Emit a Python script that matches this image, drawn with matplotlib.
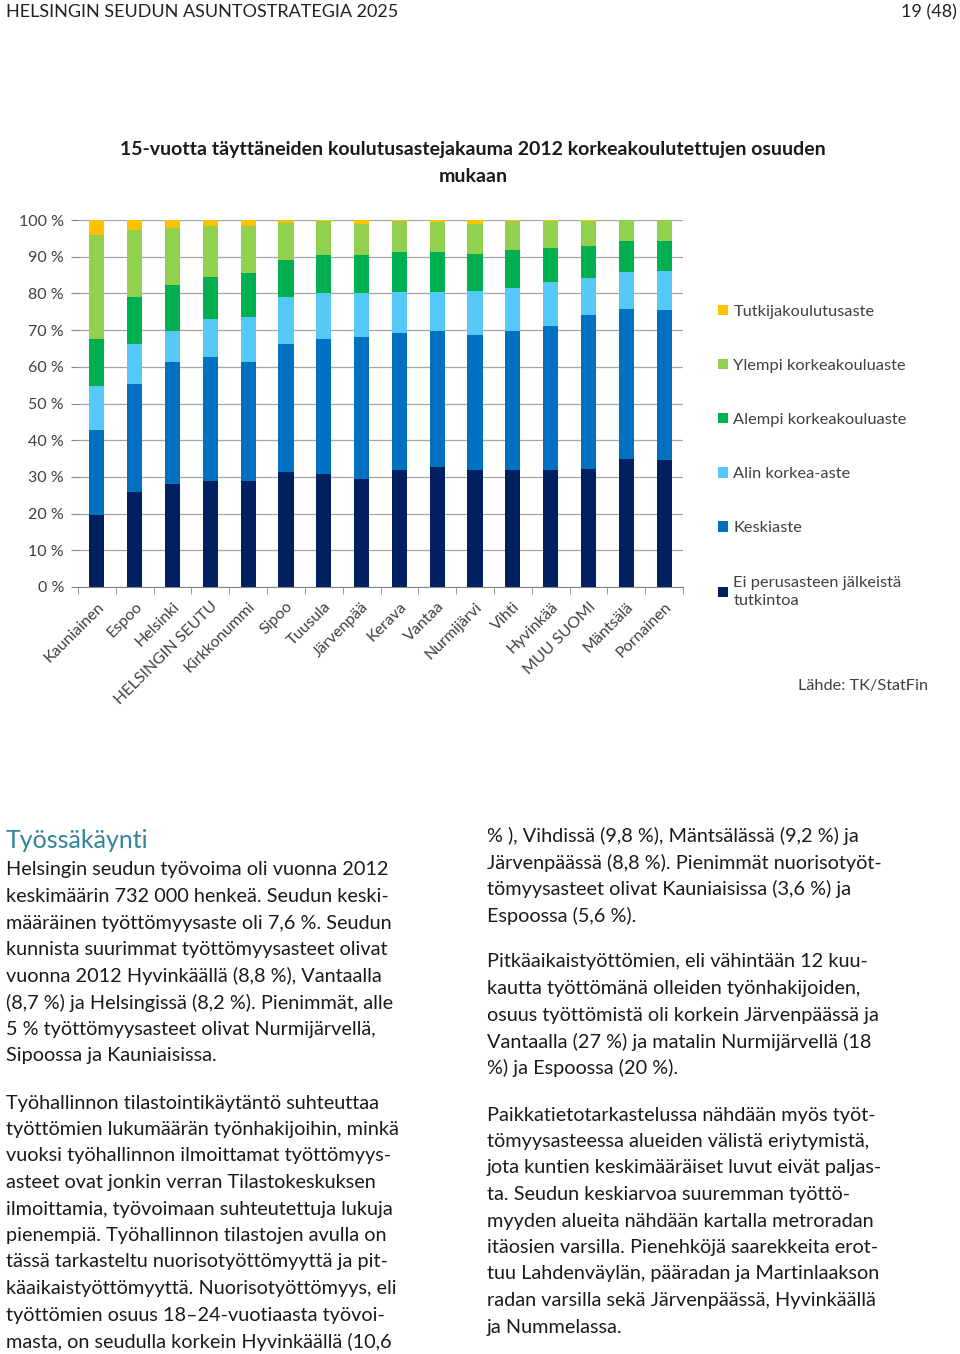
import numpy as np
import matplotlib.pyplot as plt

plt.rcParams['font.family'] = ['Lato', 'DejaVu Sans']

categories = ["Kauniainen", "Espoo", "Helsinki", "HELSINGIN SEUTU", "Kirkkonummi",
              "Sipoo", "Tuusula", "Järvenpää", "Kerava", "Vantaa", "Nurmijärvi",
              "Vihti", "Hyvinkää", "MUU SUOMI", "Mäntsälä", "Pornainen"]

# shares (%) by education level
ei_perusasteen = [19.7, 25.8, 28.1, 29.0, 29.0, 31.2, 30.9, 29.4, 31.8, 32.8, 31.8, 31.8, 31.9, 32.1, 34.8, 34.5]
keskiaste = [23.1, 29.6, 33.1, 33.8, 32.4, 34.9, 36.6, 38.6, 37.5, 37.0, 36.9, 38.0, 39.1, 41.9, 40.9, 40.9]
alin_korkea = [12.0, 10.8, 8.6, 10.2, 12.3, 12.8, 12.5, 12.0, 11.0, 10.5, 12.0, 11.8, 12.0, 10.2, 10.0, 10.8]
alempi_kk = [12.7, 12.9, 12.5, 11.6, 11.8, 10.2, 10.5, 10.5, 10.9, 10.9, 10.0, 10.1, 9.5, 8.8, 8.6, 8.1]
ylempi_kk = [28.4, 18.2, 15.4, 13.8, 12.9, 10.0, 9.3, 8.4, 8.6, 8.3, 8.2, 8.1, 7.3, 6.8, 5.6, 5.6]
tutkija = [4.1, 2.7, 2.3, 1.6, 1.6, 0.9, 0.2, 1.1, 0.2, 0.5, 1.1, 0.2, 0.2, 0.2, 0.1, 0.1]

series = [ei_perusasteen, keskiaste, alin_korkea, alempi_kk, ylempi_kk, tutkija]
series_names = ["Ei perusasteen jälkeistä\ntutkintoa", "Keskiaste", "Alin korkea-aste",
                "Alempi korkeakouluaste", "Ylempi korkeakouluaste", "Tutkijakoulutusaste"]
colors = ["#002060", "#0070C0", "#55C8F5", "#00B050", "#92D050", "#FFC000"]

W, H = 960, 1354
fig = plt.figure(figsize=(W / 100, H / 100), dpi=100)

# page header
fig.text(6 / W, 1 - 12 / H, "HELSINGIN SEUDUN ASUNTOSTRATEGIA 2025", va='center', ha='left',
         fontsize=13, color='#222222')
fig.text(957 / W, 1 - 12 / H, "19 (48)", va='center', ha='right',
         fontsize=13, color='#222222')

# chart
ax = fig.add_axes([78 / W, 1 - 587 / H, 605 / W, 367 / H])
x = np.arange(len(categories))
bottom = np.zeros(len(categories))
bars = []
for vals, name, c in zip(series, series_names, colors):
    b = ax.bar(x, vals, 0.4, bottom=bottom, color=c, label=name, zorder=2)
    bars.append(b)
    bottom += np.array(vals)

ax.set_xlim(-0.5, len(categories) - 0.5)
ax.set_ylim(0, 100)
ax.set_yticks(np.arange(0, 101, 10))
ax.set_yticklabels([f"{v} %" for v in range(0, 101, 10)], fontsize=11.5, color='#404040')
ax.yaxis.grid(True, color='#a6a6a6', lw=0.9)
ax.set_axisbelow(True)
for s in ['top', 'right', 'left']:
    ax.spines[s].set_visible(False)
ax.spines['bottom'].set_color('#868686')
ax.tick_params(axis='y', length=5, color='#868686', pad=5)
ax.set_xticks(x)
ax.set_xticklabels(categories, rotation=45, ha='right', rotation_mode='anchor',
                   fontsize=11.5, color='#404040')
ax.tick_params(axis='x', which='major', length=0, pad=9)
ax.set_xticks(np.arange(-0.5, len(categories), 1), minor=True)
ax.tick_params(axis='x', which='minor', length=5, color='#868686')

fig.text(473 / W, 1 - 150 / H, "15-vuotta täyttäneiden koulutusastejakauma 2012 korkeakoulutettujen osuuden",
         ha='center', va='center', fontsize=14, weight='bold', color='#1a1a1a')
fig.text(473 / W, 1 - 177 / H, "mukaan", ha='center', va='center', fontsize=14,
         weight='bold', color='#1a1a1a')

leg = fig.legend(bars[::-1], series_names[::-1], loc='upper left',
                 bbox_to_anchor=(703 / W, 1 - 290 / H),
                 frameon=False, fontsize=11.8, handlelength=0.6, handleheight=0.6, handletextpad=0.35,
                 labelspacing=2.45, labelcolor='#404040')
for t in leg.get_texts():
    t.set_linespacing(1.45)

fig.text(928 / W, 1 - 686 / H, "Lähde: TK/StatFin", ha='right', va='center', fontsize=11.7, color='#404040')

# body text
fig.text(6 / W, 1 - 840 / H, "Työssäkäynti", ha='left', va='center', fontsize=18, color='#31849B')

left_col = [
    (870, ["Helsingin seudun työvoima oli vuonna 2012",
           "keskimäärin 732 000 henkeä. Seudun keski-",
           "määräinen työttömyysaste oli 7,6 %. Seudun",
           "kunnista suurimmat työttömyysasteet olivat",
           "vuonna 2012 Hyvinkäällä (8,8 %), Vantaalla",
           "(8,7 %) ja Helsingissä (8,2 %). Pienimmät, alle",
           "5 % työttömyysasteet olivat Nurmijärvellä,",
           "Sipoossa ja Kauniaisissa."]),
    (1103, ["Työhallinnon tilastointikäytäntö suhteuttaa",
            "työttömien lukumäärän työnhakijoihin, minkä",
            "vuoksi työhallinnon ilmoittamat työttömyys-",
            "asteet ovat jonkin verran Tilastokeskuksen",
            "ilmoittamia, työvoimaan suhteutettuja lukuja",
            "pienempiä. Työhallinnon tilastojen avulla on",
            "tässä tarkasteltu nuorisotyöttömyyttä ja pit-",
            "käaikaistyöttömyyttä. Nuorisotyöttömyys, eli",
            "työttömien osuus 18–24-vuotiaasta työvoi-",
            "masta, on seudulla korkein Hyvinkäällä (10,6"]),
]
right_col = [
    (836, ["% ), Vihdissä (9,8 %), Mäntsälässä (9,2 %) ja",
           "Järvenpäässä (8,8 %). Pienimmät nuorisotyöt-",
           "tömyysasteet olivat Kauniaisissa (3,6 %) ja",
           "Espoossa (5,6 %)."]),
    (962, ["Pitkäaikaistyöttömien, eli vähintään 12 kuu-",
           "kautta työttömänä olleiden työnhakijoiden,",
           "osuus työttömistä oli korkein Järvenpäässä ja",
           "Vantaalla (27 %) ja matalin Nurmijärvellä (18",
           "%) ja Espoossa (20 %)."]),
    (1115, ["Paikkatietotarkastelussa nähdään myös työt-",
            "tömyysasteessa alueiden välistä eriytymistä,",
            "jota kuntien keskimääräiset luvut eivät paljas-",
            "ta. Seudun keskiarvoa suuremman työttö-",
            "myyden alueita nähdään kartalla metroradan",
            "itäosien varsilla. Pienehköjä saarekkeita erot-",
            "tuu Lahdenväylän, pääradan ja Martinlaakson",
            "radan varsilla sekä Järvenpäässä, Hyvinkäällä",
            "ja Nummelassa."]),
]
pitch = 26.5
for col_x, paras in [(6, left_col), (487, right_col)]:
    for y0, lines in paras:
        for i, line in enumerate(lines):
            fig.text(col_x / W, 1 - (y0 + i * pitch) / H, line, ha='left', va='center',
                     fontsize=14.3, color='#1a1a1a')

fig.savefig("out.png", dpi=100)
